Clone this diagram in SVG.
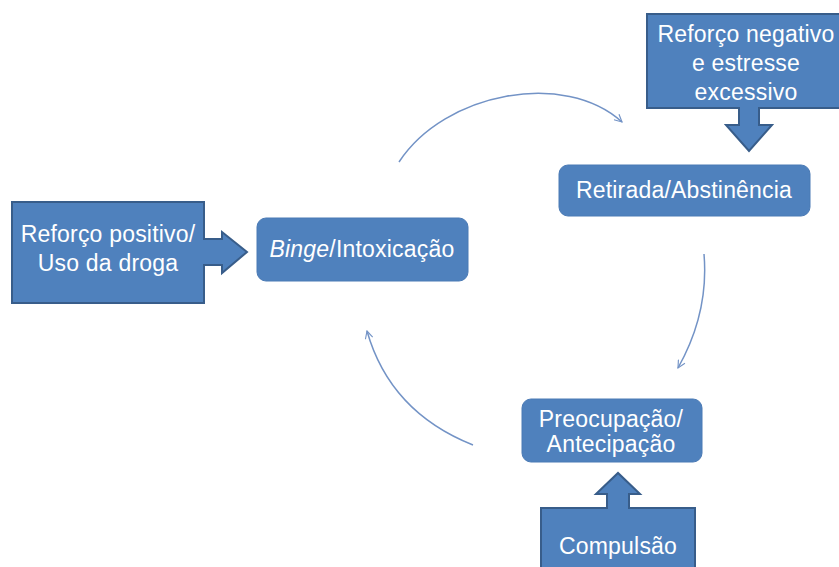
<svg xmlns="http://www.w3.org/2000/svg" width="839" height="567" viewBox="0 0 839 567">
<defs>
<style>
.blk{fill:#4F81BD;stroke:#385D8A;stroke-width:2;stroke-linejoin:miter}
.rnd{fill:#4F81BD;stroke:#4A7AB5;stroke-width:1}
.t{font-family:"Liberation Sans",Arial,sans-serif;font-size:23px;fill:#FFFFFF;text-anchor:middle;letter-spacing:0.2px}
.arc{fill:none;stroke:#7393C6;stroke-width:1.5}
</style>
<marker id="open" viewBox="0 0 12 12" refX="11" refY="6" markerWidth="9" markerHeight="9" markerUnits="userSpaceOnUse" orient="auto">
<path d="M1,1 L11,6 L1,11" fill="none" stroke="#7393C6" stroke-width="1.5"/>
</marker>
</defs>
<rect width="839" height="567" fill="#FFFFFF"/>
<g id="connectors">
<path class="arc" d="M399,162 C445,92 565,70 622,122" marker-end="url(#open)"/>
<path class="arc" d="M704,254 Q709,313 678,368" marker-end="url(#open)"/>
<path class="arc" d="M473,445 Q390,412 367,331" marker-end="url(#open)"/>
</g>
<g id="reforco-negativo">
<path class="blk" d="M647,14 H845 V108 H759 V125 H772 L749,151 L726,125 H739 V108 H647 Z"/>
<text class="t" x="746" y="42">Reforço negativo</text>
<text class="t" x="746" y="71">e estresse</text>
<text class="t" x="746" y="100">excessivo</text>
</g>
<g id="retirada">
<rect class="rnd" x="559" y="165" width="251" height="51" rx="9"/>
<text class="t" x="684" y="198">Retirada/Abstinência</text>
</g>
<g id="reforco-positivo">
<path class="blk" d="M12,202 H204 V239 H222 V232 L247,252 L222,273 V265 H204 V303 H12 Z"/>
<text class="t" x="108" y="242">Reforço positivo/</text>
<text class="t" x="108" y="271">Uso da droga</text>
</g>
<g id="binge">
<rect class="rnd" x="257" y="218" width="211" height="63" rx="9"/>
<text class="t" x="362" y="257"><tspan font-style="italic">Binge</tspan>/Intoxicação</text>
</g>
<g id="preocupacao">
<rect class="rnd" x="522" y="399" width="180" height="63" rx="9"/>
<text class="t" x="611" y="427">Preocupação/</text>
<text class="t" x="611" y="452">Antecipação</text>
</g>
<g id="compulsao">
<path class="blk" d="M541,508 H607 V494 H596 L618,473 L640,494 H629 V508 H695 V575 H541 Z"/>
<text class="t" x="618" y="554">Compulsão</text>
</g>
</svg>
